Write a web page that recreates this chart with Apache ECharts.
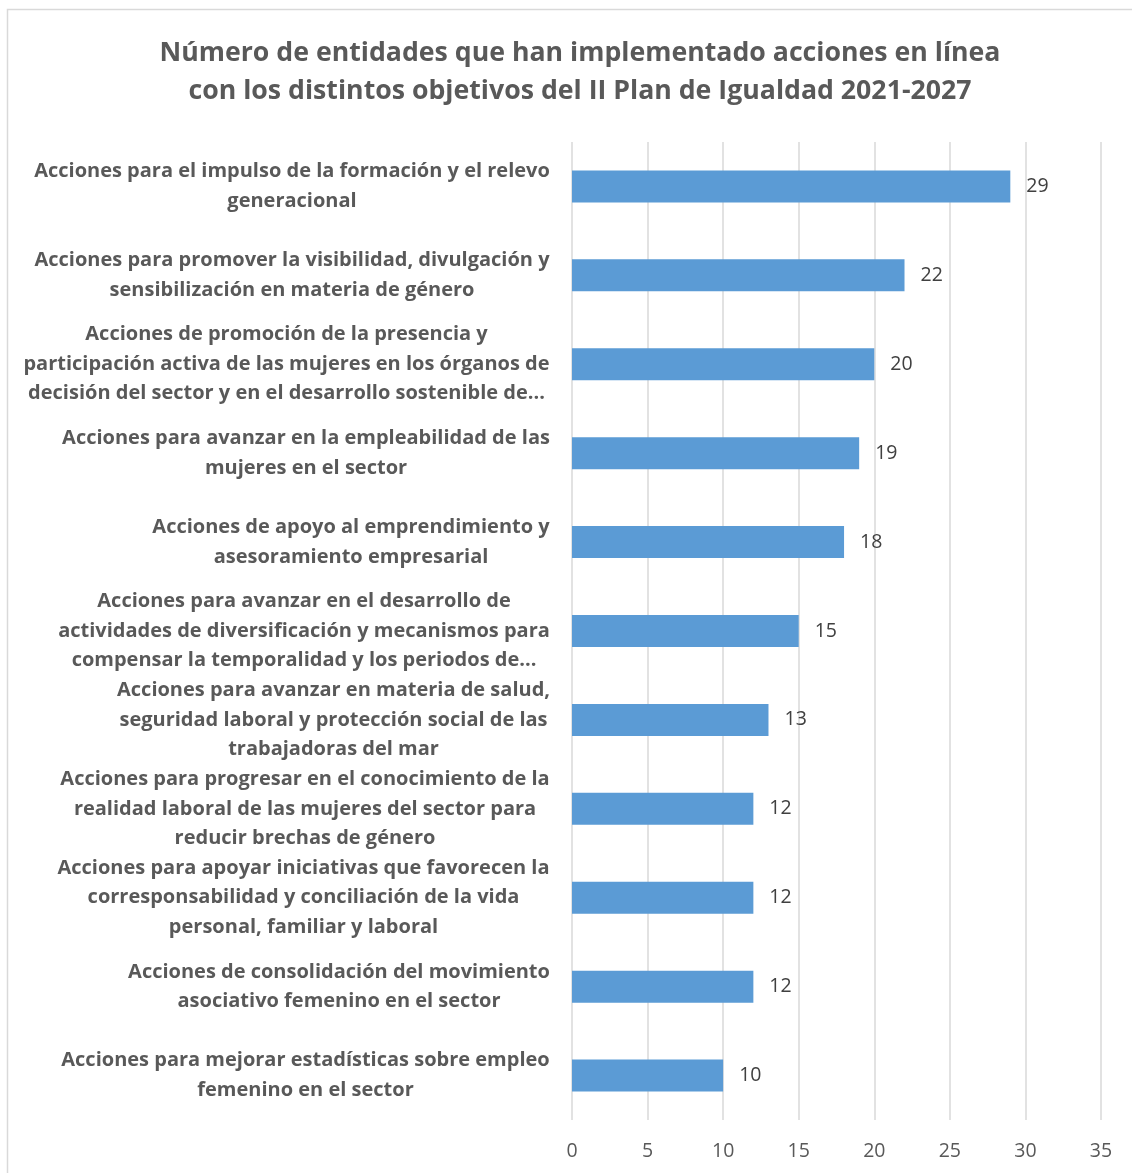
<!DOCTYPE html>
<html>
<head>
<meta charset="utf-8">
<script src="https://cdn.jsdelivr.net/npm/echarts@6/dist/echarts.min.js"></script>
<style>
  html, body { margin: 0; padding: 0; background: #fff; }
  #chart { width: 1132px; height: 1173px; }
</style>
</head>
<body>
<div id="chart"></div>
<script>
// categories, top to bottom
const categories = [
  "Acciones para el impulso de la formación y el relevo\ngeneracional",
  "Acciones para promover la visibilidad, divulgación y\nsensibilización en materia de género",
  "Acciones de promoción de la presencia y\nparticipación activa de las mujeres en los órganos de\ndecisión del sector y en el desarrollo sostenible de...",
  "Acciones para avanzar en la empleabilidad de las\nmujeres en el sector",
  "Acciones de apoyo al emprendimiento y\nasesoramiento empresarial",
  "Acciones para avanzar en el desarrollo de\nactividades de diversificación y mecanismos para\ncompensar la temporalidad y los periodos de...",
  "Acciones para avanzar en materia de salud,\nseguridad laboral y protección social de las\ntrabajadoras del mar",
  "Acciones para progresar en el conocimiento de la\nrealidad laboral de las mujeres del sector para\nreducir brechas de género",
  "Acciones para apoyar iniciativas que favorecen la\ncorresponsabilidad y conciliación de la vida\npersonal, familiar y laboral",
  "Acciones de consolidación del movimiento\nasociativo femenino en el sector",
  "Acciones para mejorar estadísticas sobre empleo\nfemenino en el sector"
];
const values = [29, 22, 20, 19, 18, 15, 13, 12, 12, 12, 10];
const titleText = "Número de entidades que han implementado acciones en línea\ncon los distintos objetivos del II Plan de Igualdad 2021-2027";

const fontFamily = "'Open Sans', Lato, sans-serif";
const labelSize = 20;

// measure each label block so lines can be centred inside a right-aligned block
const ctx = document.createElement("canvas").getContext("2d");
ctx.font = "bold " + labelSize + "px " + fontFamily;
const rich = {};
categories.forEach((c, i) => {
  const w = Math.max(...c.split("\n").map((l) => ctx.measureText(l).width));
  rich["r" + i] = {
    width: Math.ceil(w),
    align: "center",
    fontFamily,
    fontSize: labelSize,
    fontWeight: "bold",
    color: "#595959",
    lineHeight: 29.5
  };
});

const chart = echarts.init(document.getElementById("chart"));
chart.setOption({
  animation: false,
  backgroundColor: "#ffffff",
  title: {
    text: titleText,
    left: 575,
    top: 29,
    textAlign: "center",
    textStyle: {
      fontFamily,
      fontSize: 26.7,
      fontWeight: "bold",
      color: "#595959",
      lineHeight: 38,
      align: "center"
    }
  },
  graphic: [
    {
      type: "rect",
      shape: { x: 7.5, y: 9.5, width: 1200, height: 1200 },
      style: { fill: "none", stroke: "#d9d9d9", lineWidth: 1.5 },
      silent: true
    }
  ],
  grid: {
    left: 572,
    right: 31,
    top: 142,
    bottom: 53
  },
  xAxis: {
    type: "value",
    min: 0,
    max: 35,
    interval: 5,
    axisLine: { show: false },
    axisTick: { show: false },
    splitLine: { show: true, lineStyle: { color: "#d9d9d9", width: 1.5 } },
    axisLabel: {
      fontFamily,
      fontSize: 19.5,
      color: "#595959",
      margin: 21
    }
  },
  yAxis: {
    type: "category",
    inverse: true,
    data: categories,
    axisLine: { show: false },
    axisTick: { show: false },
    axisLabel: {
      align: "right",
      margin: 22,
      rich,
      formatter: (v, i) => v.split("\n").map((l) => "{r" + i + "|" + l + "}").join("\n")
    }
  },
  series: [
    {
      type: "bar",
      data: values,
      barWidth: "36%",
      itemStyle: { color: "#5b9bd5" },
      label: {
        show: true,
        position: "right",
        distance: 16,
        fontFamily,
        fontSize: 19.5,
        color: "#404040"
      }
    }
  ]
});
</script>
</body>
</html>
